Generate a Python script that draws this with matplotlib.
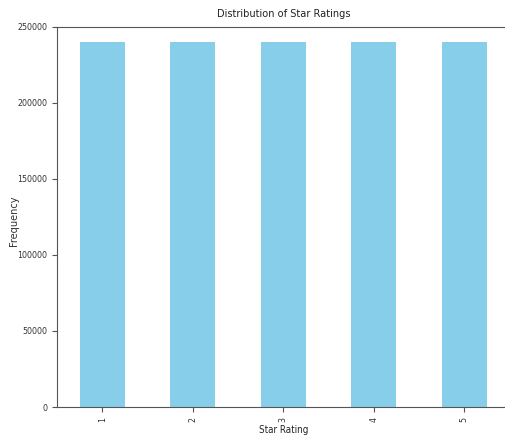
import pandas as pd
import matplotlib.pyplot as plt

# Star rating counts
ratings = [1, 2, 3, 4, 5]
counts = [240000, 240000, 240000, 240000, 240000]

plt.rcParams['font.family'] = ['DejaVu Sans']
plt.rcParams['font.stretch'] = 'condensed'

fig = plt.figure(figsize=(5.05, 4.36), dpi=100)
ax = fig.add_axes([0.113, 0.0665, 0.896, 0.872])

rating_counts = pd.Series(counts, index=ratings)
rating_counts.plot(kind='bar', color='skyblue', ax=ax)

ax.set_title('Distribution of Star Ratings', fontsize=7.8, pad=7, color='#222222')
ax.set_xlabel('Star Rating', fontsize=7, labelpad=2, color='#222222')
ax.set_ylabel('Frequency', fontsize=7.8, color='#333333')
ax.yaxis.set_label_coords(-0.085, 0.49)
ax.set_ylim(0, 250000)
ax.tick_params(labelsize=6.3, length=3.5, color='#555555', labelcolor='#333333')
for s in ax.spines.values():
    s.set_color('#555555')

fig.savefig('out.png', dpi=100)
